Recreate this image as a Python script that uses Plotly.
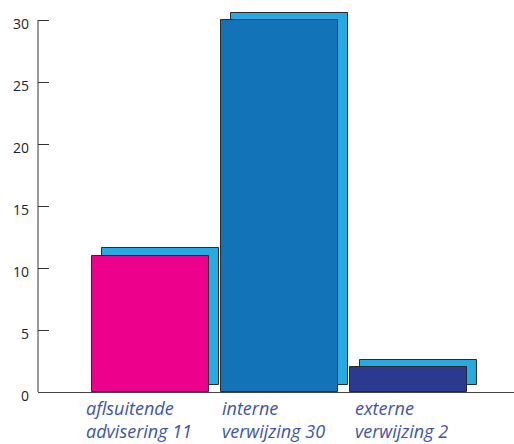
import plotly.graph_objects as go

# Data
label_first = ["aflsuitende", "interne", "externe"]
label_second = ["advisering", "verwijzing", "verwijzing"]
values = [11, 30, 2]
y_ticks = [0, 5, 10, 15, 20, 25, 30]

# Styling
bar_colors = ["#EC008C", "#1273B9", "#2B3990"]
shadow_color = "#27AAE1"
outline = "#2a2a2a"
label_color = "#3D55A5"
bar_width = 0.903
shadow_dx = 0.0775
shadow_base = 0.6
label_dx = [-8, -1, 3]

xs = list(range(len(values)))

fig = go.Figure()

# offset "depth" panel behind each bar
fig.add_trace(go.Bar(
    x=[x + shadow_dx for x in xs],
    y=values,
    base=shadow_base,
    width=bar_width,
    marker=dict(color=shadow_color, line=dict(color=outline, width=1)),
    hoverinfo="skip",
    showlegend=False,
))

fig.add_trace(go.Bar(
    x=xs,
    y=values,
    width=bar_width,
    marker=dict(color=bar_colors, line=dict(color=outline, width=1)),
    showlegend=False,
))

# category labels under the bars, left aligned
for i, (a, b, v) in enumerate(zip(label_first, label_second, values)):
    fig.add_annotation(
        x=xs[i] - bar_width / 2, y=0, xref="x", yref="y",
        text=f"{a}<br>{b} {v}",
        showarrow=False, xanchor="left", yanchor="top", align="left",
        xshift=label_dx[i], yshift=-2,
        font=dict(family="Open Sans", size=18, color=label_color, style="italic"),
    )

# vertical axis line up to the top tick
fig.add_shape(type="line", xref="paper", yref="y", x0=0, x1=0, y0=0, y1=30,
              line=dict(color="#333333", width=1))

fig.update_layout(
    width=514, height=444,
    margin=dict(l=38, r=0, t=8, b=52),
    paper_bgcolor="white", plot_bgcolor="white",
    barmode="overlay",
    bargap=0,
    xaxis=dict(range=[-0.872, 2.816], showticklabels=False, showgrid=False,
               zeroline=False, showline=True, linecolor="#444444", linewidth=1,
               ticks=""),
    yaxis=dict(range=[0, 30.968], tickvals=y_ticks, ticks="inside", ticklen=11,
               tickcolor="#333333", tickwidth=1, showgrid=False, zeroline=False,
               showline=False, ticklabelstandoff=8, ticklabelshift=4,
               tickfont=dict(family="Open Sans", size=14, color="#222222")),
)

fig.write_html("out.html")
